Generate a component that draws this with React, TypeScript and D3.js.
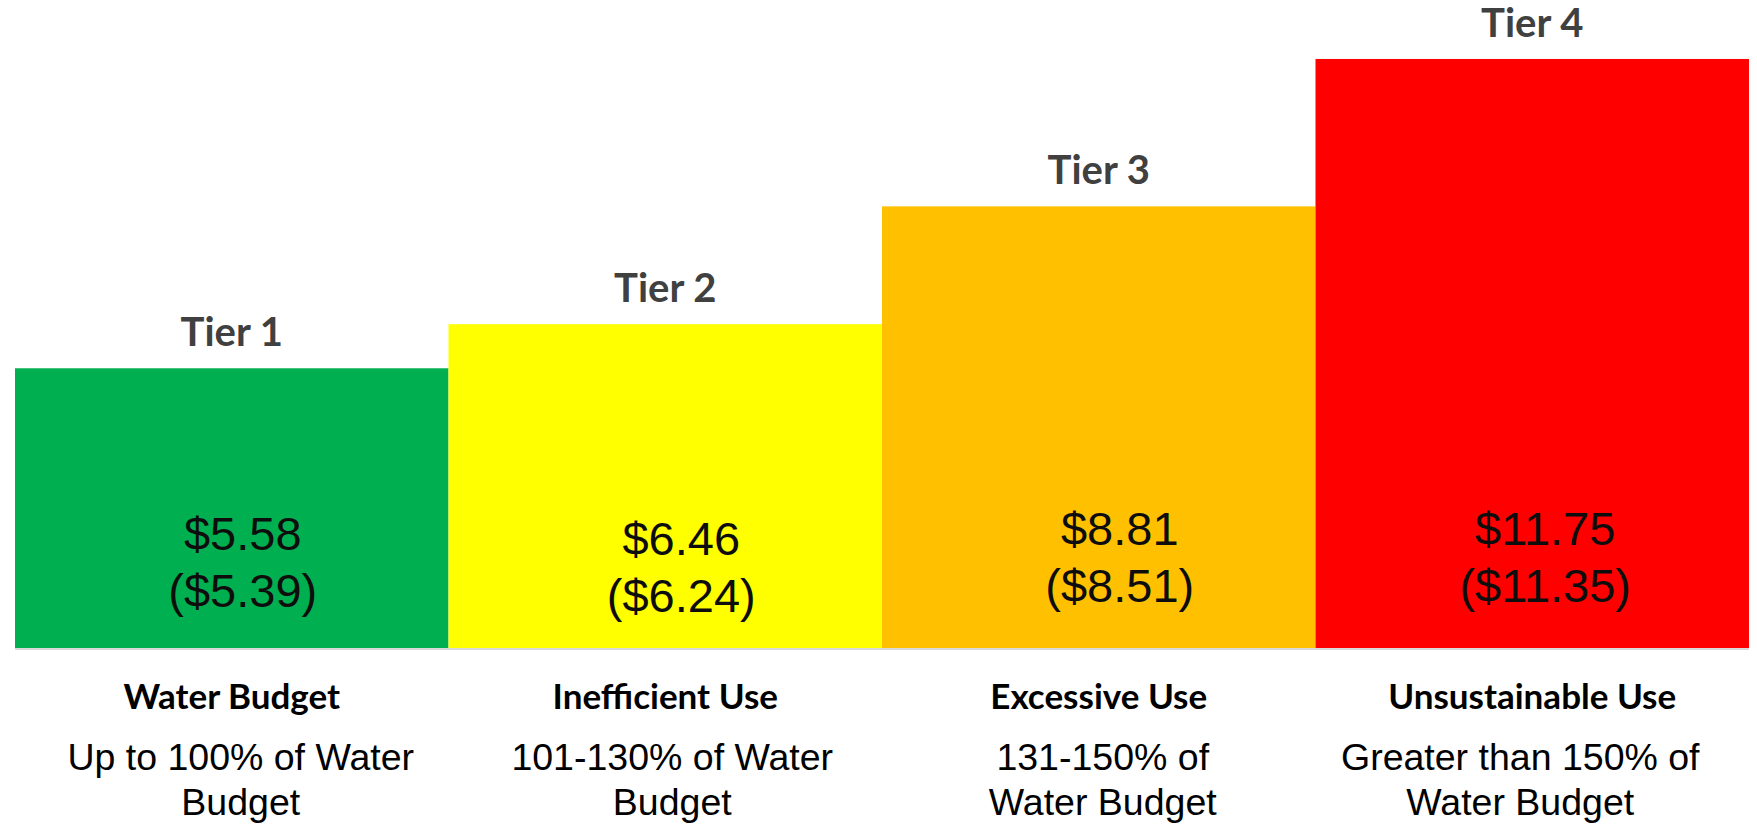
import React from "react";
import * as d3 from "d3";

const tiers = ["Tier 1", "Tier 2", "Tier 3", "Tier 4"];
const rates = [5.58, 6.46, 8.81, 11.75];
const priorRates = [5.39, 6.24, 8.51, 11.35];
const categories = ["Water Budget", "Inefficient Use", "Excessive Use", "Unsustainable Use"];
const descLine1 = ["Up to 100% of Water", "101-130% of Water", "131-150% of", "Greater than 150% of"];
const descLine2 = ["Budget", "Budget", "Water Budget", "Water Budget"];
const colors = ["#00B050", "#FFFF00", "#FFC000", "#FF0000"];

// layout nudges for hand-placed text boxes (px)
const valueNudgeX = [11, 16, 21, 13];
const valueNudgeY = [1, 6, -4, -4];
const descNudgeX = [9, 7, 4, -12];

const W = 1757;
const H = 825;
const baseY = 648;

export default function App() {
  const x = d3.scaleBand<string>().domain(tiers).range([15, 1749]).padding(0);
  const y = d3.scaleLinear().domain([0, 12]).range([baseY, baseY - 12 * 50.13]);
  const fmt = d3.format("$.2f");

  return (
    <svg
      width={W}
      height={H}
      style={{ position: "absolute", left: 0, top: 0, background: "#fff" }}
    >
      {tiers.map((t, i) => {
        const x0 = x(t)!;
        const bw = x.bandwidth();
        const cx = x0 + bw / 2;
        const top = y(rates[i]);
        return (
          <g key={t}>
            <rect x={x0} y={top} width={bw} height={baseY - top} fill={colors[i]} />
            <text
              x={cx}
              y={top - 22}
              textAnchor="middle"
              fontFamily="Lato, 'Open Sans', sans-serif"
              fontWeight={700}
              fontSize={40}
              fill="#404040"
            >
              {t}
            </text>
            <text
              x={cx + valueNudgeX[i]}
              y={549 + valueNudgeY[i]}
              textAnchor="middle"
              fontFamily="'Liberation Sans', Arial, sans-serif"
              fontSize={47}
              fill="#0d0d0d"
            >
              {fmt(rates[i])}
            </text>
            <text
              x={cx + valueNudgeX[i]}
              y={606 + valueNudgeY[i]}
              textAnchor="middle"
              fontFamily="'Liberation Sans', Arial, sans-serif"
              fontSize={47}
              fill="#0d0d0d"
            >
              {"(" + fmt(priorRates[i]) + ")"}
            </text>
            <text
              x={cx}
              y={709}
              textAnchor="middle"
              fontFamily="Lato, 'Open Sans', sans-serif"
              fontWeight={700}
              fontSize={35}
              fill="#000"
            >
              {categories[i]}
            </text>
            <text
              x={cx + descNudgeX[i]}
              y={770}
              textAnchor="middle"
              fontFamily="'Liberation Sans', Arial, sans-serif"
              fontSize={37.5}
              fill="#000"
            >
              {descLine1[i]}
            </text>
            <text
              x={cx + descNudgeX[i]}
              y={815}
              textAnchor="middle"
              fontFamily="'Liberation Sans', Arial, sans-serif"
              fontSize={37.5}
              fill="#000"
            >
              {descLine2[i]}
            </text>
          </g>
        );
      })}
      <line
        x1={x.range()[0]}
        x2={x.range()[1]}
        y1={baseY + 1}
        y2={baseY + 1}
        stroke="#d9d9d9"
        strokeWidth={2}
      />
    </svg>
  );
}
